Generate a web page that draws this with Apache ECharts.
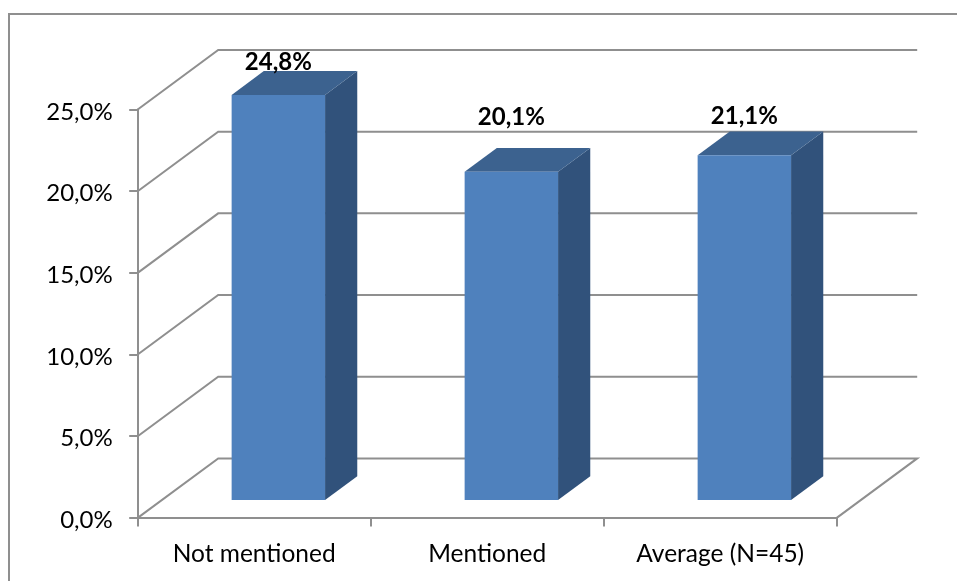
<!DOCTYPE html>
<html>
<head>
<meta charset="utf-8">
<style>html,body{margin:0;padding:0;background:#fff}#chart{width:957px;height:581px}</style>
<script src="https://cdn.jsdelivr.net/npm/echarts@6/dist/echarts.min.js"></script>
</head>
<body>
<div id="chart"></div>
<script>
// Share of responses per group
const categories = ['Not mentioned', 'Mentioned', 'Average (N=45)'];
const shares = [24.8, 20.1, 21.1];
const wallTicks = [0, 5, 10, 15, 20, 25];

// Oblique projection of the chart box
const DEPTH_X = 80.5, DEPTH_Y = -59.5;
const BAR_NEAR = 0.3, BAR_FAR = 0.7, BAR_WIDTH = 0.401;
const LINE = '#8f8f8f';
const LINE_W = 2;
const FONT = 'Lato';
// Height of each value label above the bar's rear top edge
const labelLift = [9, 31, 15];

const pct = v => v.toFixed(1).replace('.', ',') + '%';

const chart = echarts.init(document.getElementById('chart'), null, { renderer: 'canvas' });

function renderWall(params, api) {
  const v = api.value(0);
  const a = api.coord([0, v]);
  const left = a[0] - api.size([1, 0])[0] / 2;
  const right = left + api.size([1, 0])[0] * categories.length;
  const y = a[1];
  const shape = { points: [[left, y], [left + DEPTH_X, y + DEPTH_Y], [right + DEPTH_X, y + DEPTH_Y]] };
  if (v === 0) shape.points.push([right, y]);
  return {
    type: 'polyline',
    shape,
    style: { stroke: LINE, lineWidth: LINE_W, fill: null },
    silent: true
  };
}

function renderBar(params, api) {
  const idx = api.value(0), val = api.value(1);
  const band = api.size([1, 0])[0];
  const top = api.coord([idx, val]);
  const base = api.coord([idx, 0]);
  const w = band * BAR_WIDTH;
  const nx = DEPTH_X * BAR_NEAR, ny = DEPTH_Y * BAR_NEAR;
  const dx = DEPTH_X * (BAR_FAR - BAR_NEAR), dy = DEPTH_Y * (BAR_FAR - BAR_NEAR);
  const x0 = top[0] - w / 2 + nx, x1 = x0 + w;
  const yT = top[1] + ny, yB = base[1] + ny;
  return {
    type: 'group',
    children: [
      { type: 'polygon', shape: { points: [[x1, yT], [x1 + dx, yT + dy], [x1 + dx, yB + dy], [x1, yB]] },
        style: { fill: '#31527b' } },
      { type: 'polygon', shape: { points: [[x0, yT], [x0 + dx, yT + dy], [x1 + dx, yT + dy], [x1, yT]] },
        style: { fill: '#3c628f' } },
      { type: 'rect', shape: { x: x0, y: yT, width: w, height: yB - yT },
        style: { fill: '#4f81bd' } },
      { type: 'text', x: top[0] + nx, y: yT + dy - labelLift[idx],
        style: { text: pct(val), fill: '#000', font: 'bold 24px ' + FONT, align: 'center', verticalAlign: 'middle' } }
    ]
  };
}

chart.setOption({
  animation: false,
  backgroundColor: '#fff',
  grid: { left: 137.7, top: 109.5, width: 699, height: 408.4, containLabel: false },
  graphic: [{
    type: 'rect',
    shape: { x: 9, y: 14, width: 1000, height: 620 },
    style: { fill: null, stroke: LINE, lineWidth: LINE_W },
    silent: true
  }],
  xAxis: {
    type: 'category',
    data: categories,
    axisLine: { lineStyle: { color: LINE, width: LINE_W } },
    axisTick: { show: true, length: 8.5, alignWithLabel: false, lineStyle: { color: LINE, width: LINE_W } },
    axisLabel: { color: '#000', fontFamily: FONT, fontSize: 24.5, margin: 24 },
    splitLine: { show: false }
  },
  yAxis: {
    type: 'value',
    min: 0,
    max: 25,
    interval: 5,
    axisLine: { show: true, lineStyle: { color: LINE, width: LINE_W } },
    axisTick: { show: true, length: 8.5, lineStyle: { color: LINE, width: LINE_W } },
    axisLabel: {
      margin: 25,
      formatter: v => '{tick|' + pct(v) + '}',
      rich: { tick: { color: '#000', fontFamily: FONT, fontSize: 24, padding: [5, 0, 0, 0] } }
    },
    splitLine: { show: false }
  },
  series: [
    { type: 'custom', name: 'walls', renderItem: renderWall, clip: false, z: 1,
      encode: { y: 0 }, data: wallTicks.map(v => [v]) },
    { type: 'custom', name: 'bars', renderItem: renderBar, clip: false, z: 3,
      encode: { x: 0, y: 1 }, data: shares.map((v, i) => [i, v]) }
  ]
});
</script>
</body>
</html>
